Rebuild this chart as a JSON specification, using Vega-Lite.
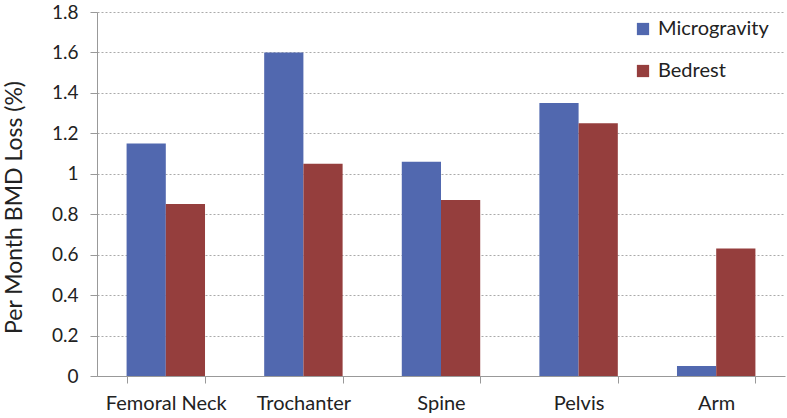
{
  "$schema": "https://vega.github.io/schema/vega-lite/v6.json",
  "width": 688,
  "height": 364,
  "autosize": {"type": "none"},
  "padding": {"left": 97, "top": 12, "right": 2, "bottom": 42},
  "background": "white",
  "config": {"view": {"stroke": null}, "font": "Lato"},
  "data": {"values": [
    {"site": "Femoral Neck", "group": "Microgravity", "loss": 1.15},
    {"site": "Femoral Neck", "group": "Bedrest", "loss": 0.85},
    {"site": "Trochanter", "group": "Microgravity", "loss": 1.6},
    {"site": "Trochanter", "group": "Bedrest", "loss": 1.05},
    {"site": "Spine", "group": "Microgravity", "loss": 1.06},
    {"site": "Spine", "group": "Bedrest", "loss": 0.87},
    {"site": "Pelvis", "group": "Microgravity", "loss": 1.35},
    {"site": "Pelvis", "group": "Bedrest", "loss": 1.25},
    {"site": "Arm", "group": "Microgravity", "loss": 0.05},
    {"site": "Arm", "group": "Bedrest", "loss": 0.63}
  ]},
  "mark": {"type": "bar"},
  "encoding": {
    "x": {
      "field": "site", "type": "nominal", "sort": null,
      "scale": {"paddingInner": 0.43, "paddingOuter": 0.215},
      "axis": {
        "title": null, "labelAngle": 0, "labelFontSize": 20, "labelColor": "#222",
        "labelPadding": 10, "tickBand": "extent", "tickSize": 7, "tickColor": "#999",
        "domainColor": "#999", "grid": false
      }
    },
    "xOffset": {"field": "group", "type": "nominal", "sort": ["Microgravity", "Bedrest"]},
    "y": {
      "field": "loss", "type": "quantitative",
      "scale": {"domain": [0, 1.8], "nice": false},
      "axis": {
        "title": "Per Month BMD Loss (%)", "titleFontSize": 23, "titleFontWeight": "normal",
        "titleColor": "#222", "titlePadding": 25, "titleY": 195,
        "values": [0, 0.2, 0.4, 0.6, 0.8, 1, 1.2, 1.4, 1.6, 1.8], "format": "~g",
        "labelFontSize": 19, "labelColor": "#222", "labelPadding": 12,
        "tickSize": 7, "tickColor": "#999", "domainColor": "#999",
        "gridColor": "#aaa", "gridDash": [2, 2], "gridWidth": 1
      }
    },
    "color": {
      "field": "group", "type": "nominal", "sort": ["Microgravity", "Bedrest"],
      "scale": {"domain": ["Microgravity", "Bedrest"], "range": ["#5168AF", "#953E3D"]},
      "legend": {
        "title": null, "orient": "none", "legendX": 536, "legendY": 7,
        "symbolType": "square", "symbolSize": 150, "symbolStrokeWidth": 0,
        "labelFontSize": 20, "labelColor": "#222", "rowPadding": 22, "labelOffset": 5
      }
    }
  }
}
